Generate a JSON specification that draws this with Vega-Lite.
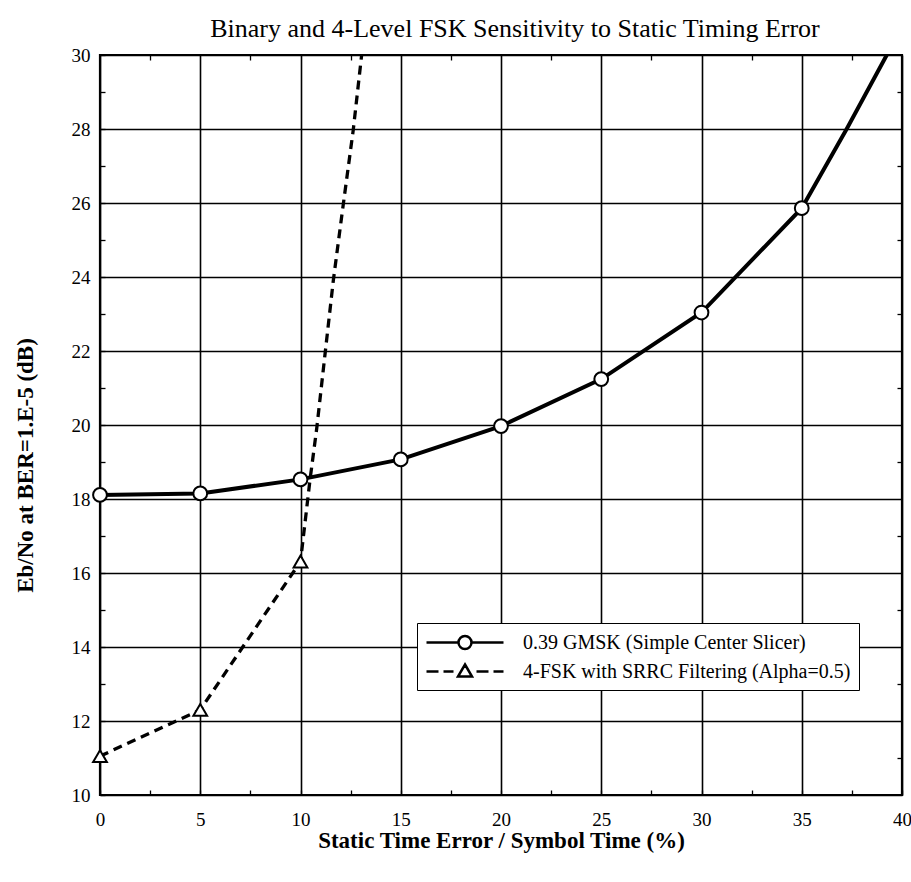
{
  "$schema": "https://vega.github.io/schema/vega-lite/v6.json",
  "width": 802,
  "height": 740,
  "autosize": "none",
  "padding": {"left": 100, "top": 55, "right": 9, "bottom": 87},
  "background": "white",
  "title": {
    "text": "Binary and 4-Level FSK Sensitivity to Static Timing Error",
    "font": "Liberation Serif",
    "fontSize": 26,
    "fontWeight": "normal",
    "color": "black",
    "anchor": "middle",
    "dx": 14,
    "offset": 4
  },
  "config": {
    "view": {"stroke": "black", "strokeWidth": 2.2},
    "axis": {
      "domain": false,
      "labelFont": "Liberation Serif",
      "labelFontSize": 19,
      "labelColor": "black",
      "labelFlush": false,
      "tickColor": "black",
      "tickWidth": 1.3,
      "titleFont": "Liberation Serif",
      "titleFontSize": 23,
      "titleFontWeight": "bold",
      "titleColor": "black"
    }
  },
  "datasets": {
    "curves": [
      {"series": "0.39 GMSK (Simple Center Slicer)", "x": 0, "y": 18.11, "measured": true},
      {"series": "0.39 GMSK (Simple Center Slicer)", "x": 5, "y": 18.15, "measured": true},
      {"series": "0.39 GMSK (Simple Center Slicer)", "x": 10, "y": 18.53, "measured": true},
      {"series": "0.39 GMSK (Simple Center Slicer)", "x": 15, "y": 19.07, "measured": true},
      {"series": "0.39 GMSK (Simple Center Slicer)", "x": 20, "y": 19.97, "measured": true},
      {"series": "0.39 GMSK (Simple Center Slicer)", "x": 25, "y": 21.24, "measured": true},
      {"series": "0.39 GMSK (Simple Center Slicer)", "x": 30, "y": 23.04, "measured": true},
      {"series": "0.39 GMSK (Simple Center Slicer)", "x": 35, "y": 25.86, "measured": true},
      {"series": "0.39 GMSK (Simple Center Slicer)", "x": 37.24, "y": 28.0, "measured": false},
      {"series": "0.39 GMSK (Simple Center Slicer)", "x": 39.24, "y": 30.0, "measured": false},
      {"series": "4-FSK with SRRC Filtering (Alpha=0.5)", "x": 0, "y": 11.05, "measured": true},
      {"series": "4-FSK with SRRC Filtering (Alpha=0.5)", "x": 5, "y": 12.3, "measured": true},
      {"series": "4-FSK with SRRC Filtering (Alpha=0.5)", "x": 10, "y": 16.31, "measured": true},
      {"series": "4-FSK with SRRC Filtering (Alpha=0.5)", "x": 10.47, "y": 18.5, "measured": false},
      {"series": "4-FSK with SRRC Filtering (Alpha=0.5)", "x": 10.81, "y": 19.91, "measured": false},
      {"series": "4-FSK with SRRC Filtering (Alpha=0.5)", "x": 11.22, "y": 21.9, "measured": false},
      {"series": "4-FSK with SRRC Filtering (Alpha=0.5)", "x": 11.64, "y": 23.92, "measured": false},
      {"series": "4-FSK with SRRC Filtering (Alpha=0.5)", "x": 12.13, "y": 25.95, "measured": false},
      {"series": "4-FSK with SRRC Filtering (Alpha=0.5)", "x": 12.63, "y": 27.97, "measured": false},
      {"series": "4-FSK with SRRC Filtering (Alpha=0.5)", "x": 13.05, "y": 30.0, "measured": false}
    ]
  },
  "data": {"name": "curves"},
  "resolve": {"axis": {"x": "independent", "y": "independent"}, "scale": {"shape": "independent"}},
  "layer": [
    {
      "transform": [{"filter": "datum.series === '0.39 GMSK (Simple Center Slicer)'"}],
      "mark": {"type": "line", "color": "black", "clip": true, "strokeWidth": 4},
      "encoding": {
        "x": {
          "field": "x", "type": "quantitative",
          "scale": {"domain": [0, 40], "nice": false, "zero": false},
          "axis": {
            "orient": "bottom",
            "values": [0, 2.5, 5, 7.5, 10, 12.5, 15, 17.5, 20, 22.5, 25, 27.5, 30, 32.5, 35, 37.5, 40],
            "labelExpr": "datum.value % 5 === 0 ? datum.label : ''",
            "tickSize": -5,
            "labelPadding": 20,
            "grid": true,
            "gridColor": "black",
            "gridWidth": 1.6,
            "gridOpacity": {"condition": {"test": "datum.value % 5 !== 0", "value": 0}, "value": 1},
            "title": "Static Time Error / Symbol Time  (%)",
            "titleY": 45,
            "titleBaseline": "middle"
          }
        },
        "y": {
          "field": "y", "type": "quantitative",
          "scale": {"domain": [10, 30], "nice": false, "zero": false},
          "axis": {
            "orient": "left",
            "values": [10, 11, 12, 13, 14, 15, 16, 17, 18, 19, 20, 21, 22, 23, 24, 25, 26, 27, 28, 29, 30],
            "labelExpr": "datum.value % 2 === 0 ? datum.label : ''",
            "tickSize": -5,
            "labelPadding": 15,
            "grid": true,
            "gridColor": "black",
            "gridWidth": 1.6,
            "gridOpacity": {"condition": {"test": "datum.value % 2 !== 0", "value": 0}, "value": 1},
            "title": "Eb/No at BER=1.E-5 (dB)",
            "titleX": -75,
            "titleY": 410,
            "titleAngle": -90,
            "titleAlign": "center",
            "titleBaseline": "middle"
          }
        }
      }
    },
    {
      "transform": [{"filter": "datum.series === '4-FSK with SRRC Filtering (Alpha=0.5)'"}],
      "mark": {"type": "line", "color": "black", "clip": true, "strokeWidth": 3.3, "strokeDash": [9, 6]},
      "encoding": {
        "x": {"field": "x", "type": "quantitative", "axis": null},
        "y": {"field": "y", "type": "quantitative", "axis": null}
      }
    },
    {
      "transform": [{"filter": "datum.measured"}],
      "mark": {"type": "point", "filled": true, "fill": "white", "stroke": "black", "strokeWidth": 2, "opacity": 1, "size": 190},
      "encoding": {
        "x": {
          "field": "x", "type": "quantitative",
          "axis": {
            "orient": "top",
            "values": [2.5, 7.5, 12.5, 17.5, 22.5, 27.5, 32.5, 37.5],
            "labels": false,
            "tickSize": -5,
            "grid": false,
            "title": null
          }
        },
        "y": {
          "field": "y", "type": "quantitative",
          "axis": {
            "orient": "right",
            "values": [11, 13, 15, 17, 19, 21, 23, 25, 27, 29],
            "labels": false,
            "tickSize": -5,
            "grid": false,
            "title": null
          }
        },
        "shape": {
          "field": "series", "type": "nominal",
          "scale": {"domain": ["0.39 GMSK (Simple Center Slicer)", "4-FSK with SRRC Filtering (Alpha=0.5)"], "range": ["circle", "triangle-up"]},
          "legend": null
        }
      }
    },
    {
      "transform": [{"filter": "datum.x < 0"}],
      "mark": {"type": "point", "filled": false, "color": "black", "strokeWidth": 2.5, "opacity": 1, "size": 400},
      "encoding": {
        "x": {"field": "x", "type": "quantitative", "axis": null},
        "y": {"field": "y", "type": "quantitative", "axis": null},
        "shape": {
          "field": "series", "type": "nominal",
          "scale": {
            "domain": ["0.39 GMSK (Simple Center Slicer)", "4-FSK with SRRC Filtering (Alpha=0.5)"],
            "range": [
              "M-1,0H2.2M3.5,0H6.7M3.5,0A0.65,0.65 0 1,1 2.2,0A0.65,0.65 0 1,1 3.5,0",
              "M-1,0H0.2M0.7,0H1.7M4,0H5.2M5.7,0H6.7M2.85,-0.7L3.55,0.5L2.15,0.5Z"
            ]
          },
          "legend": {
            "title": null,
            "orient": "none",
            "legendX": 317,
            "legendY": 568,
            "strokeColor": "black",
            "fillColor": "white",
            "padding": 8,
            "labelFont": "Liberation Serif",
            "labelFontSize": 20,
            "labelColor": "black",
            "labelOffset": 75,
            "labelLimit": 0,
            "symbolSize": 400,
            "symbolStrokeWidth": 2.5,
            "symbolStrokeColor": "black",
            "rowPadding": 5
          }
        }
      }
    }
  ]
}
